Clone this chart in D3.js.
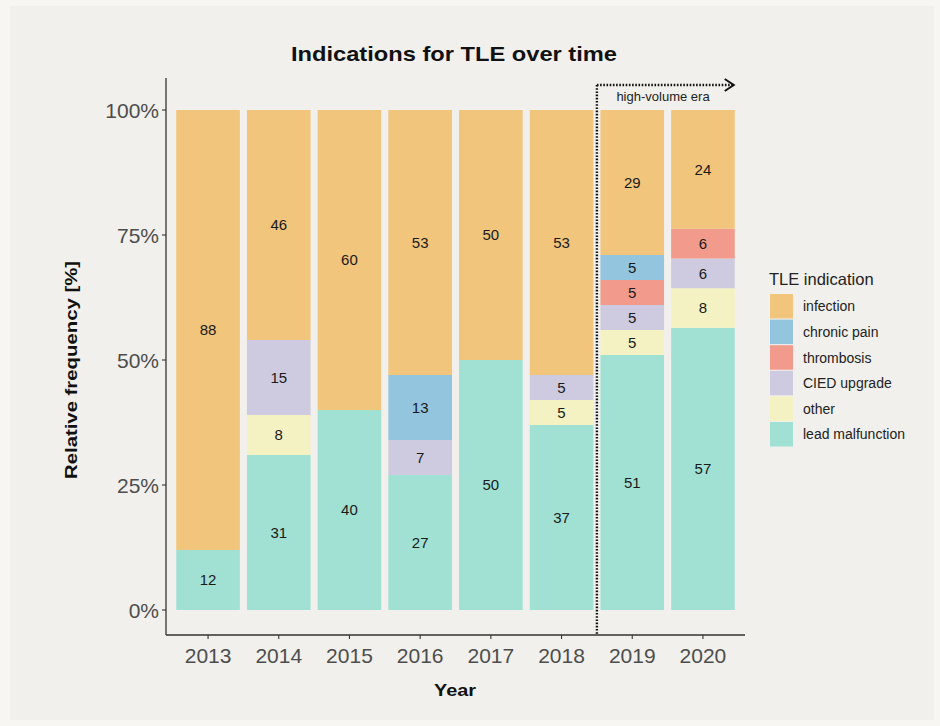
<!DOCTYPE html>
<html>
<head>
<meta charset="utf-8">
<script src="https://cdn.jsdelivr.net/npm/d3@7"></script>
<style>
  html, body { margin: 0; padding: 0; background: #f7f6f3; }
  svg { display: block; font-family: "Liberation Sans", Arial, sans-serif; }
</style>
</head>
<body>
<svg id="chart" width="940" height="726"></svg>
<script>
// ---- Data ----
const years = ["2013", "2014", "2015", "2016", "2017", "2018", "2019", "2020"];
const categories = ["lead malfunction", "other", "CIED upgrade", "thrombosis", "chronic pain", "infection"];
const leadMalfunction = [12, 31, 40, 27, 50, 37, 51, 57];
const other           = [0, 8, 0, 0, 0, 5, 5, 8];
const ciedUpgrade     = [0, 15, 0, 7, 0, 5, 5, 6];
const thrombosis      = [0, 0, 0, 0, 0, 0, 5, 6];
const chronicPain     = [0, 0, 0, 13, 0, 0, 5, 0];
const infection       = [88, 46, 60, 53, 50, 53, 29, 24];
const yTicks = [0, 0.25, 0.5, 0.75, 1];
const legendOrder = ["infection", "chronic pain", "thrombosis", "CIED upgrade", "other", "lead malfunction"];
const colors = {
  "infection": "#f2c57c",
  "chronic pain": "#93c5de",
  "thrombosis": "#f29b8c",
  "CIED upgrade": "#cecae0",
  "other": "#f4f2c2",
  "lead malfunction": "#a1e1d4"
};

const seriesValues = {
  "lead malfunction": leadMalfunction,
  "other": other,
  "CIED upgrade": ciedUpgrade,
  "thrombosis": thrombosis,
  "chronic pain": chronicPain,
  "infection": infection
};

// table for the stack (normalised like position = "fill")
const table = years.map((y, i) => {
  const row = { year: y };
  let total = 0;
  categories.forEach(c => { row[c] = seriesValues[c][i]; total += seriesValues[c][i]; });
  categories.forEach(c => { row[c + "_n"] = row[c] / total; });
  return row;
});

const svg = d3.select("#chart");
svg.append("rect").attr("x", 10).attr("y", 6).attr("width", 924).attr("height", 714).attr("fill", "#f1f0ec");

const left = 166, right = 745, yTop = 78, yBottom = 635;
const x = d3.scaleBand().domain(years).range([left, right]).paddingInner(0.1).paddingOuter(0.145);
const y = d3.scaleLinear().domain([0, 1]).range([610, 110]);

const stack = d3.stack().keys(categories.map(c => c + "_n"));
const layers = stack(table);

const g = svg.append("g");
layers.forEach((layer, li) => {
  const cat = categories[li];
  g.selectAll(null).data(layer).enter().append("rect")
    .attr("x", d => x(d.data.year))
    .attr("width", x.bandwidth())
    .attr("y", d => y(d[1]))
    .attr("height", d => Math.max(0, y(d[0]) - y(d[1])))
    .attr("fill", colors[cat]);
  g.selectAll(null).data(layer.filter(d => d.data[cat] > 0)).enter().append("text")
    .attr("x", d => x(d.data.year) + x.bandwidth() / 2)
    .attr("y", d => (y(d[0]) + y(d[1])) / 2)
    .attr("dy", "0.36em")
    .attr("text-anchor", "middle")
    .attr("font-size", 15)
    .attr("fill", "#1a1a1a")
    .text(d => d.data[cat]);
});

// axes
const axisColor = "#333";
svg.append("line").attr("x1", left).attr("x2", left).attr("y1", yTop).attr("y2", yBottom)
  .attr("stroke", axisColor).attr("stroke-width", 1.3);
svg.append("line").attr("x1", left).attr("x2", right).attr("y1", yBottom).attr("y2", yBottom)
  .attr("stroke", axisColor).attr("stroke-width", 1.3);

const yAxis = svg.append("g");
yTicks.forEach(t => {
  yAxis.append("line").attr("x1", left - 4).attr("x2", left).attr("y1", y(t)).attr("y2", y(t))
    .attr("stroke", axisColor).attr("stroke-width", 1.1);
  yAxis.append("text").attr("x", left - 7).attr("y", y(t)).attr("dy", "0.36em")
    .attr("text-anchor", "end").attr("font-size", 21).attr("fill", "#4d4d4d")
    .text(d3.format(".0%")(t));
});
const xAxis = svg.append("g");
years.forEach(yr => {
  const cx = x(yr) + x.bandwidth() / 2;
  xAxis.append("line").attr("x1", cx).attr("x2", cx).attr("y1", yBottom).attr("y2", yBottom + 4)
    .attr("stroke", axisColor).attr("stroke-width", 1.1);
  xAxis.append("text").attr("x", cx).attr("y", yBottom + 28)
    .attr("text-anchor", "middle").attr("font-size", 21).attr("fill", "#4d4d4d").text(yr);
});

// titles
svg.append("text").attr("x", 454).attr("y", 61).attr("text-anchor", "middle")
  .attr("font-size", 21).attr("font-weight", "bold").attr("fill", "#111")
  .attr("textLength", 326).attr("lengthAdjust", "spacingAndGlyphs")
  .text("Indications for TLE over time");
svg.append("text").attr("x", 455).attr("y", 696).attr("text-anchor", "middle")
  .attr("font-size", 17).attr("font-weight", "bold").attr("fill", "#111")
  .attr("textLength", 42).attr("lengthAdjust", "spacingAndGlyphs").text("Year");
svg.append("text").attr("transform", "translate(77,370) rotate(-90)").attr("text-anchor", "middle")
  .attr("font-size", 17).attr("font-weight", "bold").attr("fill", "#111")
  .attr("textLength", 218).attr("lengthAdjust", "spacingAndGlyphs").text("Relative frequency [%]");

// high-volume era annotation
const step = x.step();
const eraX = x("2019") - (step - x.bandwidth()) / 2;
const arrowEnd = x("2020") + x.bandwidth() - 1;
const arrowY = 85;
const ann = svg.append("g").attr("stroke", "#111").attr("fill", "none");
ann.append("line").attr("x1", eraX).attr("x2", eraX).attr("y1", arrowY).attr("y2", yBottom)
  .attr("stroke-width", 2.4).attr("stroke-dasharray", "1.6,1.6");
ann.append("line").attr("x1", eraX).attr("x2", arrowEnd).attr("y1", arrowY).attr("y2", arrowY)
  .attr("stroke-width", 2.4).attr("stroke-dasharray", "1.6,1.6");
ann.append("path").attr("d", `M${arrowEnd - 9},${arrowY - 6} L${arrowEnd},${arrowY} L${arrowEnd - 9},${arrowY + 6}`)
  .attr("stroke-width", 2);
svg.append("text").attr("x", 663).attr("y", 101).attr("text-anchor", "middle")
  .attr("font-size", 13).attr("fill", "#222").text("high-volume era");

// legend
const lg = svg.append("g").attr("transform", "translate(769,0)");
lg.append("text").attr("x", 0).attr("y", 285).attr("font-size", 16.5).attr("fill", "#222").text("TLE indication");
legendOrder.forEach((c, i) => {
  const ky = 294 + i * 25.6;
  lg.append("rect").attr("x", 1).attr("y", ky).attr("width", 23).attr("height", 24.5).attr("fill", colors[c]);
  lg.append("text").attr("x", 34).attr("y", ky + 12.3).attr("dy", "0.36em")
    .attr("font-size", 14).attr("fill", "#222").text(c);
});
</script>
</body>
</html>
